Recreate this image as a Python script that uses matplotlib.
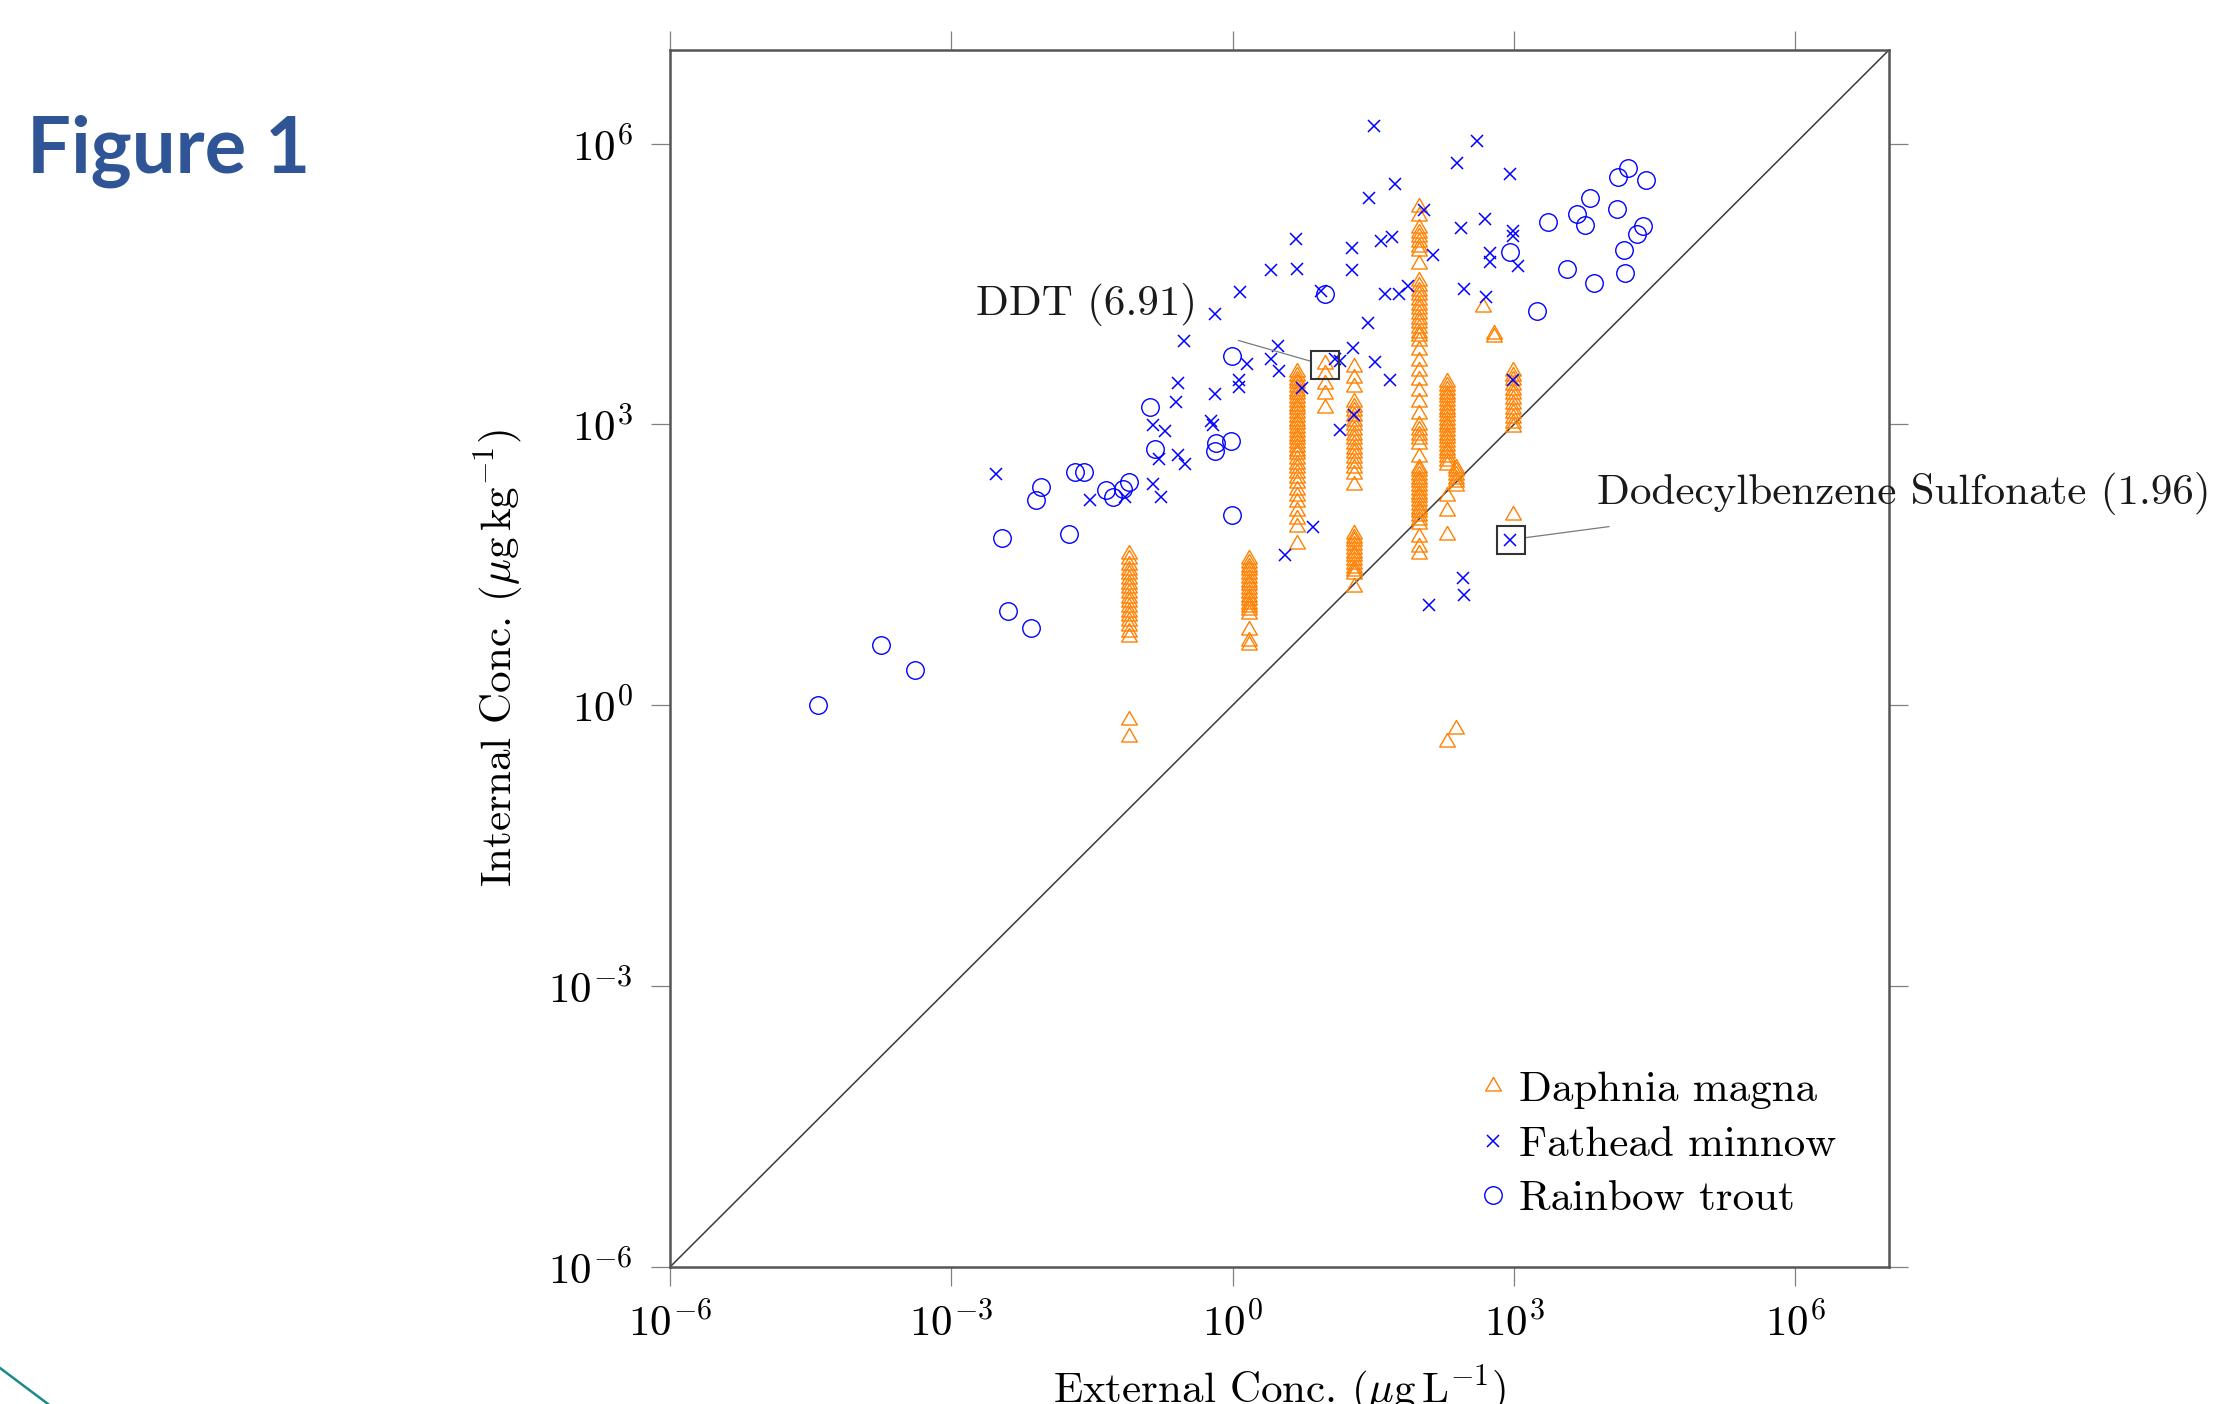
import numpy as np
import matplotlib
matplotlib.use('Agg')
import matplotlib.pyplot as plt
from matplotlib.lines import Line2D
from matplotlib.path import Path
from matplotlib.ticker import NullLocator

plt.rcParams['font.family'] = 'cmr10'
plt.rcParams['mathtext.fontset'] = 'cm'
plt.rcParams['axes.formatter.use_mathtext'] = True

# all concentrations given as log10 values
# Daphnia magna: mostly stacked columns sharing one external concentration
daphnia_col_ext = [-1.10, 0.18, 0.69, 0.99, 1.29, 1.99, 2.29, 2.38, 2.99]
daphnia_col_int = [
    [1.62, 1.56, 1.50, 1.45, 1.40, 1.35, 1.30, 1.25, 1.20, 1.15, 1.10, 1.05,
     1.00, 0.95, 0.90, 0.85, 0.78, 0.73, -0.16, -0.34],
    [1.56, 1.52, 1.48, 1.44, 1.40, 1.36, 1.32, 1.28, 1.24, 1.20, 1.16, 1.12,
     1.08, 1.05, 1.02, 0.98, 0.80, 0.69, 0.64],
    [3.56, 3.52, 3.48, 3.44, 3.40, 3.36, 3.32, 3.28, 3.24, 3.20, 3.16, 3.12,
     3.08, 3.04, 3.00, 2.96, 2.92, 2.88, 2.84, 2.80, 2.76, 2.72, 2.68, 2.63,
     2.58, 2.53, 2.48, 2.43, 2.37, 2.30, 2.24, 2.17, 2.08, 1.99, 1.90, 1.72],
    [3.65, 3.54, 3.43, 3.33, 3.18],
    [3.61, 3.50, 3.40, 3.24, 3.19, 3.14, 3.09, 3.04, 2.99, 2.94, 2.89, 2.84,
     2.79, 2.74, 2.69, 2.64, 2.59, 2.54, 2.47, 2.35, 1.83, 1.79, 1.75, 1.71,
     1.67, 1.63, 1.59, 1.55, 1.51, 1.47, 1.43, 1.40, 1.26],
    [5.32, 5.23, 5.10, 5.05, 5.00, 4.95, 4.90, 4.85, 4.71, 4.53, 4.48, 4.43,
     4.38, 4.33, 4.28, 4.23, 4.18, 4.13, 4.08, 4.03, 3.98, 3.94, 3.89, 3.79,
     3.68, 3.57, 3.47, 3.36, 3.24, 3.11, 2.99, 2.94, 2.89, 2.84, 2.79, 2.65,
     2.54, 2.50, 2.46, 2.42, 2.38, 2.34, 2.30, 2.26, 2.22, 2.18, 2.14, 2.10,
     2.06, 2.02, 1.98, 1.94, 1.80, 1.69, 1.62],
    [3.45, 3.41, 3.37, 3.33, 3.29, 3.25, 3.21, 3.17, 3.13, 3.09, 3.05, 3.01,
     2.97, 2.93, 2.89, 2.85, 2.81, 2.77, 2.73, 2.69, 2.65, 2.61, 2.57, 2.24,
     2.08, 1.82, -0.39],
    [2.54, 2.50, 2.46, 2.42, 2.38, 2.34, -0.25],
    [3.57, 3.52, 3.47, 3.42, 3.37, 3.32, 3.27, 3.22, 3.17, 3.12, 3.07, 3.02,
     2.97, 2.03],
]
daphnia_extra_ext = [2.67, 2.79, 2.79]
daphnia_extra_int = [4.25, 3.93, 3.97]

fathead_ext = [-2.52, -1.52, -1.15, -0.85, -0.76, -0.85, -0.72, -0.78, -0.58,
               -0.51, -0.60, -0.58, -0.52, -0.19, -0.19, -0.23, -0.21,
               1.51, 2.61, 2.39, 2.96, 1.73, 1.45, 2.04, 0.68, 1.27, 1.58,
               1.70, 2.44, 2.69, 2.99, 2.99, 2.14, 2.75, 2.74, 3.04, 0.41,
               0.69, 1.27, 0.08, 0.94, 1.63, 1.77, 1.87, 2.47, 2.70, 1.44,
               0.48, 0.41, 0.50, 0.15, 1.28, 1.09, 1.15, 1.52, 1.68, 0.07,
               0.07, 0.74, 1.29, 1.15, 2.99, 0.86, 0.56, 2.96, 2.46, 2.47,
               2.09]
fathead_int = [2.47, 2.19, 2.22, 2.36, 2.22, 2.99, 2.93, 2.63, 2.67,
               2.58, 3.24, 3.44, 3.89, 4.18, 3.33, 3.04, 2.99,
               6.19, 6.03, 5.79, 5.67, 5.57, 5.42, 5.29, 4.98, 4.89, 4.96,
               5.00, 5.10, 5.19, 5.07, 5.01, 4.81, 4.83, 4.74, 4.69, 4.65,
               4.66, 4.65, 4.42, 4.43, 4.39, 4.39, 4.48, 4.45, 4.36, 4.08,
               3.84, 3.70, 3.57, 3.65, 3.82, 3.70, 3.68, 3.67, 3.47, 3.47,
               3.40, 3.39, 3.10, 2.94, 3.47, 1.90, 1.61, 1.77, 1.36, 1.18,
               1.07]

trout_ext = [-4.42, -3.75, -3.39, -2.40, -2.15, -2.46, -1.75, -2.10, -2.04,
             -1.68, -1.59, -1.35, -1.28, -1.17, -1.10, -0.88, -0.83,
             4.22, 4.11, 4.41, 3.81, 3.67, 3.76, 4.10, 3.36, 4.38, 4.31,
             4.17, 3.57, 3.85, 4.18, 2.96, 3.25, 0.99, -0.01, -0.02, -0.18,
             -0.19, -0.01]
trout_int = [0.00, 0.64, 0.38, 1.01, 0.83, 1.79, 1.83, 2.19, 2.33,
             2.49, 2.49, 2.30, 2.23, 2.31, 2.38, 3.19, 2.74,
             5.74, 5.64, 5.61, 5.42, 5.25, 5.13, 5.30, 5.16, 5.12, 5.03,
             4.86, 4.66, 4.51, 4.62, 4.84, 4.21, 4.39, 3.73, 2.82, 2.80,
             2.72, 2.03]

highlight_ext = [0.99, 2.97]
highlight_int = [3.63, 1.77]
highlight_labels = ['DDT (6.91)', 'Dodecylbenzene Sulfonate (1.96)']

axis_lo, axis_hi = 1e-6, 1e7
tick_values = [1e-6, 1e-3, 1e0, 1e3, 1e6]

orange = '#ff8000'
blue = '#0000ff'
fs = 31

daph_x = np.concatenate([[c] * len(v) for c, v in zip(daphnia_col_ext, daphnia_col_int)] + [daphnia_extra_ext])
daph_y = np.concatenate(daphnia_col_int + [daphnia_extra_int])

tri = Path([(0, 1), (-0.866, -0.5), (0.866, -0.5), (0, 1)], closed=True)

fig = plt.figure(figsize=(22.15, 14.04), dpi=100)
ax = fig.add_axes([0.3025, 0.0976, 0.5503, 0.8668])

ax.plot([axis_lo, axis_hi], [axis_lo, axis_hi], color='#3a3a3a', lw=1.1, zorder=1)

ax.plot(10 ** daph_x, 10 ** daph_y, ls='none', marker=tri, ms=13, mfc='none',
        mec=orange, mew=1.0, label='Daphnia magna', zorder=2)
ax.plot(10 ** np.array(fathead_ext), 10 ** np.array(fathead_int), ls='none',
        marker='x', ms=8.5, mec=blue, mew=1.1, label='Fathead minnow', zorder=3)
ax.plot(10 ** np.array(trout_ext), 10 ** np.array(trout_int), ls='none',
        marker='o', ms=12.6, mfc='none', mec=blue, mew=1.0, label='Rainbow trout', zorder=4)

hx = 10 ** np.array(highlight_ext)
hy = 10 ** np.array(highlight_int)
ax.plot(hx, hy, ls='none', marker='s', ms=20, mfc='none', mec='#333333', mew=1.5, zorder=5)

# labels for the two highlighted chemicals, with thin leader lines
ax.annotate(highlight_labels[0], xy=(hx[0], hy[0]), xytext=(-128, 50),
            textcoords='offset pixels', ha='right', va='baseline', fontsize=fs,
            color='#1a1a1a', annotation_clip=False)
ax.annotate('', xy=(hx[0], hy[0]), xytext=(-87, 25), textcoords='offset pixels',
            arrowprops=dict(arrowstyle='-', color='#7a7a7a', lw=0.9, shrinkA=0, shrinkB=11))
ax.annotate(highlight_labels[1], xy=(hx[1], hy[1]), xytext=(86, 36),
            textcoords='offset pixels', ha='left', va='baseline', fontsize=fs,
            color='#1a1a1a', annotation_clip=False)
ax.annotate('', xy=(hx[1], hy[1]), xytext=(98, 13), textcoords='offset pixels',
            arrowprops=dict(arrowstyle='-', color='#7a7a7a', lw=0.9, shrinkA=0, shrinkB=11))

ax.set_xscale('log')
ax.set_yscale('log')
ax.set_xlim(axis_lo, axis_hi)
ax.set_ylim(axis_lo, axis_hi)
ax.set_xticks(tick_values)
ax.set_yticks(tick_values)
ax.xaxis.set_minor_locator(NullLocator())
ax.yaxis.set_minor_locator(NullLocator())
ax.tick_params(direction='out', length=14, width=0.9, color='#808080',
               labelsize=fs, top=True, right=True, pad=11)
ax.tick_params(axis='y', pad=13)

for sp in ax.spines.values():
    sp.set_color('#555555')
    sp.set_linewidth(1.8)

ax.set_xlabel(r'External Conc. $(\mu\mathrm{g\,L}^{-1})$', fontsize=fs)
ax.set_ylabel(r'Internal Conc. $(\mu\mathrm{g\,kg}^{-1})$', fontsize=fs)
ax.xaxis.set_label_coords(0.5, -0.079)
ax.yaxis.set_label_coords(-0.118, 0.5)

ax.legend(loc='upper left', bbox_to_anchor=(0.661, 0.161), frameon=False,
          fontsize=fs, handlelength=0.8, handletextpad=0.2, labelspacing=0.38,
          borderpad=0, borderaxespad=0, numpoints=1)

fig.text(0.012, 1 - 173 / 1404, 'Figure 1', fontfamily='Lato', fontweight='bold',
         fontsize=56, color='#2f5597', va='baseline', ha='left')

fig.add_artist(Line2D([0, 48 / 2215], [1 - 1368 / 1404, 0], transform=fig.transFigure,
                      color='#1a8a8a', lw=1.8))

fig.savefig('out.png', dpi=100)
